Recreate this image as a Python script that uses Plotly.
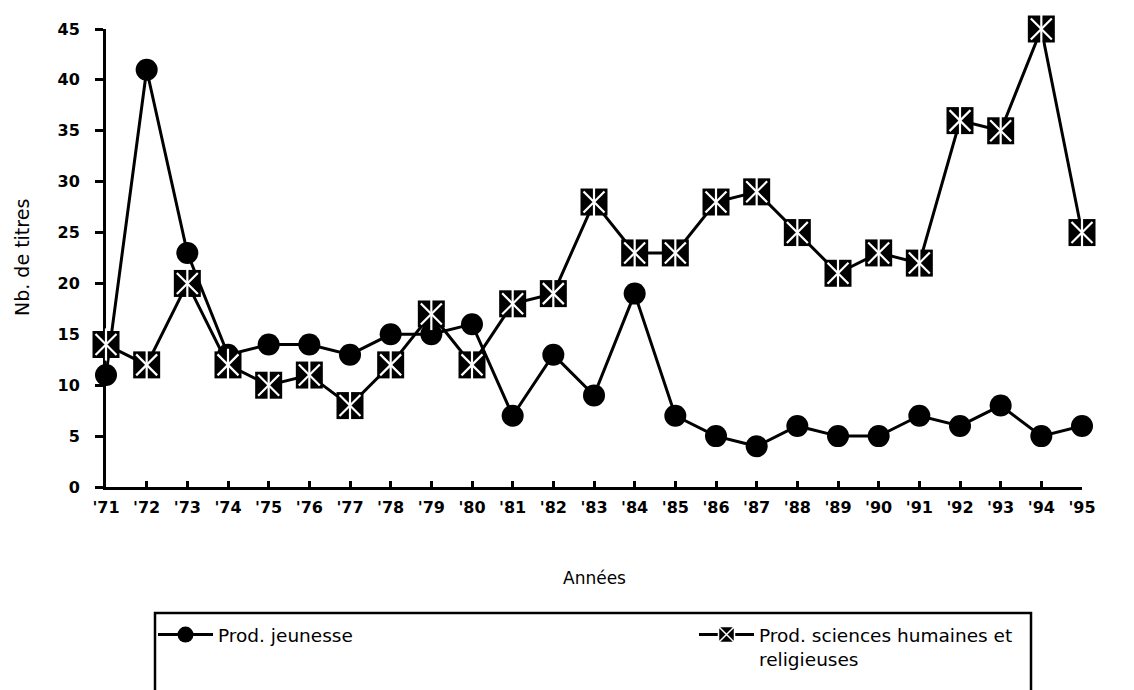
import plotly.graph_objects as go

years = list(range(1971, 1996))
year_labels = ["'71", "'72", "'73", "'74", "'75", "'76", "'77", "'78", "'79", "'80",
               "'81", "'82", "'83", "'84", "'85", "'86", "'87", "'88", "'89", "'90",
               "'91", "'92", "'93", "'94", "'95"]
jeunesse = [11, 41, 23, 13, 14, 14, 13, 15, 15, 16, 7, 13, 9, 19, 7, 5, 4, 6, 5, 5, 7, 6, 8, 5, 6]
sciences = [14, 12, 20, 12, 10, 11, 8, 12, 17, 12, 18, 19, 28, 23, 23, 28, 29, 25, 21, 23, 22, 36, 35, 45, 25]
y_ticks = [0, 5, 10, 15, 20, 25, 30, 35, 40, 45]

name_j = "Prod. jeunesse"
name_s = "Prod. sciences humaines et<br>religieuses"
FONT = "DejaVu Sans"

# plot area in pixels
L, R, T, B = 98, 1074, 14, 479
W, H = 1134, 690
PW, PH = R - L, B - T

def px(x):
    return (x - L) / PW

def py(y):
    return (B - y) / PH

fig = go.Figure()

fig.add_trace(go.Scatter(
    x=years, y=jeunesse, mode="lines+markers", name=name_j,
    line=dict(color="black", width=3),
    marker=dict(symbol="circle", size=22, color="black"),
    cliponaxis=False, showlegend=True, legend="legend",
))
fig.add_trace(go.Scatter(
    x=years, y=sciences, mode="lines+markers", name=name_s,
    line=dict(color="black", width=3),
    marker=dict(symbol="square", size=27, color="black"),
    cliponaxis=False, showlegend=False,
))
fig.add_trace(go.Scatter(
    x=years, y=sciences, mode="markers", hoverinfo="skip",
    marker=dict(symbol="x-thin-open", size=21, color="white", line=dict(color="white", width=2.2)),
    cliponaxis=False, showlegend=False,
))
fig.add_trace(go.Scatter(
    x=years, y=sciences, mode="markers", hoverinfo="skip",
    marker=dict(symbol="line-ns-open", size=23, color="white", line=dict(color="white", width=2.2)),
    cliponaxis=False, showlegend=False,
))
fig.add_trace(go.Scatter(
    x=[None], y=[None], mode="lines+markers", name=name_s,
    line=dict(color="black", width=3),
    marker=dict(symbol="square-x", size=18, color="black", line=dict(color="white", width=1.5)),
    showlegend=True, legend="legend2",
))

axis_common = dict(showgrid=False, zeroline=False, color="black")
tickfont = dict(family=FONT, size=16, color="black", weight="bold")
legfont = dict(family=FONT, size=18.5, color="black")

fig.update_layout(
    width=W, height=H,
    margin=dict(l=L, r=W - R, t=T, b=H - B),
    paper_bgcolor="white", plot_bgcolor="white",
    font=dict(family=FONT, color="black", size=16),
    xaxis=dict(
        **axis_common, range=[1971, 1995], tickmode="array", tickvals=years, ticktext=year_labels,
        showline=True, linecolor="black", linewidth=3, ticks="inside", ticklen=6, tickwidth=2.5,
        tickcolor="black", ticklabelstandoff=4, tickfont=tickfont, layer="below traces",
    ),
    yaxis=dict(
        **axis_common, range=[0, 45], tickmode="array", tickvals=y_ticks,
        showline=True, linecolor="black", linewidth=3, ticks="outside", ticklen=8, tickwidth=2.5,
        tickcolor="black", ticklabelstandoff=12, tickfont=tickfont, layer="below traces",
    ),
    xaxis2=dict(
        **axis_common, overlaying="x", anchor="y", side="bottom", range=[1971, 1995],
        tickmode="array", tickvals=years, showticklabels=False, ticks="outside", ticklen=8,
        tickwidth=2.5, tickcolor="black", showline=False, layer="below traces",
    ),
    yaxis2=dict(
        **axis_common, overlaying="y", anchor="x", side="left", range=[0, 45],
        tickmode="array", tickvals=y_ticks, showticklabels=False, ticks="inside", ticklen=10,
        tickwidth=2.5, tickcolor="black", showline=False, layer="below traces",
    ),
    legend=dict(
        orientation="h", x=px(145), y=py(610), xanchor="left", yanchor="top",
        font=legfont, bgcolor="rgba(0,0,0,0)", itemwidth=55, valign="top",
    ),
    legend2=dict(
        orientation="h", x=px(686), y=py(610), xanchor="left", yanchor="top",
        font=legfont, bgcolor="rgba(0,0,0,0)", itemwidth=55, valign="top",
    ),
    annotations=[
        dict(text="Années", xref="paper", yref="paper", x=0.5, y=py(571),
             xanchor="center", yanchor="middle", showarrow=False,
             font=dict(family=FONT, size=17, color="black")),
        dict(text="Nb. de titres", xref="paper", yref="paper", x=px(14), y=0.5,
             xanchor="center", yanchor="middle", showarrow=False, textangle=-90,
             font=dict(family=FONT, size=19, color="black")),
    ],
    shapes=[
        dict(type="rect", xref="paper", yref="paper",
             x0=px(147), x1=px(1023), y0=py(607), y1=py(740),
             line=dict(color="black", width=2.5), fillcolor="rgba(0,0,0,0)", layer="above"),
    ],
)

fig.write_html("out.html")
